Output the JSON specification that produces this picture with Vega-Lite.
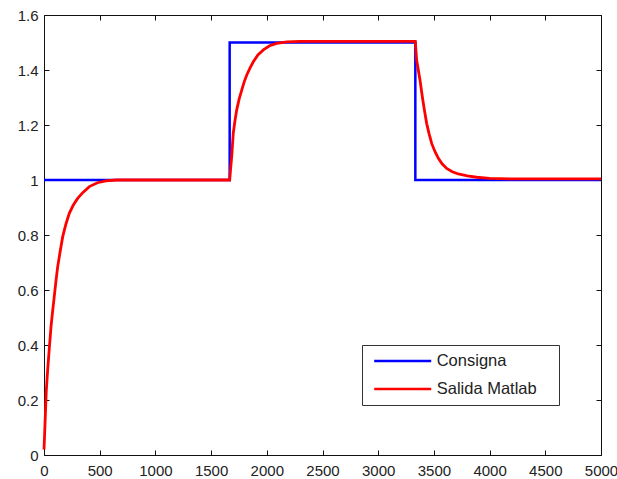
{
  "$schema": "https://vega.github.io/schema/vega-lite/v6.json",
  "width": 557,
  "height": 440,
  "autosize": "none",
  "padding": {"left": 44, "top": 15, "right": 16, "bottom": 24},
  "background": "white",
  "config": {
    "view": {"stroke": "#111", "strokeWidth": 1},
    "axis": {"grid": false, "domain": false, "tickColor": "#111", "tickSize": -5, "labelFont": "Liberation Sans", "labelFontSize": 15, "labelColor": "#222", "title": null, "labelFlush": false, "labelOverlap": false}
  },
  "data": {
    "values": [
      {"serie": "Consigna", "i": 0, "t": 0, "y": 1},
      {"serie": "Consigna", "i": 1, "t": 1666.7, "y": 1},
      {"serie": "Consigna", "i": 2, "t": 1666.7, "y": 1.5},
      {"serie": "Consigna", "i": 3, "t": 3333.3, "y": 1.5},
      {"serie": "Consigna", "i": 4, "t": 3333.3, "y": 1},
      {"serie": "Consigna", "i": 5, "t": 5000, "y": 1},
      {"serie": "Salida Matlab", "i": 0, "t": 0, "y": 0.02},
      {"serie": "Salida Matlab", "i": 1, "t": 5, "y": 0.07},
      {"serie": "Salida Matlab", "i": 2, "t": 12, "y": 0.145},
      {"serie": "Salida Matlab", "i": 3, "t": 20, "y": 0.23},
      {"serie": "Salida Matlab", "i": 4, "t": 33, "y": 0.31},
      {"serie": "Salida Matlab", "i": 5, "t": 48, "y": 0.39},
      {"serie": "Salida Matlab", "i": 6, "t": 63, "y": 0.467},
      {"serie": "Salida Matlab", "i": 7, "t": 78, "y": 0.525},
      {"serie": "Salida Matlab", "i": 8, "t": 92, "y": 0.576},
      {"serie": "Salida Matlab", "i": 9, "t": 108, "y": 0.635},
      {"serie": "Salida Matlab", "i": 10, "t": 123, "y": 0.685},
      {"serie": "Salida Matlab", "i": 11, "t": 145, "y": 0.74},
      {"serie": "Salida Matlab", "i": 12, "t": 168, "y": 0.794},
      {"serie": "Salida Matlab", "i": 13, "t": 197, "y": 0.84},
      {"serie": "Salida Matlab", "i": 14, "t": 227, "y": 0.879},
      {"serie": "Salida Matlab", "i": 15, "t": 262, "y": 0.908},
      {"serie": "Salida Matlab", "i": 16, "t": 302, "y": 0.933},
      {"serie": "Salida Matlab", "i": 17, "t": 350, "y": 0.955},
      {"serie": "Salida Matlab", "i": 18, "t": 407, "y": 0.976},
      {"serie": "Salida Matlab", "i": 19, "t": 480, "y": 0.99},
      {"serie": "Salida Matlab", "i": 20, "t": 556, "y": 0.997},
      {"serie": "Salida Matlab", "i": 21, "t": 650, "y": 1.0},
      {"serie": "Salida Matlab", "i": 22, "t": 1667, "y": 1.0},
      {"serie": "Salida Matlab", "i": 23, "t": 1675, "y": 1.04},
      {"serie": "Salida Matlab", "i": 24, "t": 1685, "y": 1.085},
      {"serie": "Salida Matlab", "i": 25, "t": 1699, "y": 1.17},
      {"serie": "Salida Matlab", "i": 26, "t": 1714, "y": 1.215},
      {"serie": "Salida Matlab", "i": 27, "t": 1730, "y": 1.255},
      {"serie": "Salida Matlab", "i": 28, "t": 1752, "y": 1.295},
      {"serie": "Salida Matlab", "i": 29, "t": 1775, "y": 1.327},
      {"serie": "Salida Matlab", "i": 30, "t": 1797, "y": 1.357},
      {"serie": "Salida Matlab", "i": 31, "t": 1820, "y": 1.382},
      {"serie": "Salida Matlab", "i": 32, "t": 1850, "y": 1.408},
      {"serie": "Salida Matlab", "i": 33, "t": 1879, "y": 1.43},
      {"serie": "Salida Matlab", "i": 34, "t": 1920, "y": 1.455},
      {"serie": "Salida Matlab", "i": 35, "t": 1969, "y": 1.473},
      {"serie": "Salida Matlab", "i": 36, "t": 2025, "y": 1.488},
      {"serie": "Salida Matlab", "i": 37, "t": 2089, "y": 1.497},
      {"serie": "Salida Matlab", "i": 38, "t": 2180, "y": 1.502},
      {"serie": "Salida Matlab", "i": 39, "t": 2300, "y": 1.504},
      {"serie": "Salida Matlab", "i": 40, "t": 3333, "y": 1.504},
      {"serie": "Salida Matlab", "i": 41, "t": 3345, "y": 1.436},
      {"serie": "Salida Matlab", "i": 42, "t": 3360, "y": 1.4},
      {"serie": "Salida Matlab", "i": 43, "t": 3375, "y": 1.364},
      {"serie": "Salida Matlab", "i": 44, "t": 3390, "y": 1.32},
      {"serie": "Salida Matlab", "i": 45, "t": 3405, "y": 1.279},
      {"serie": "Salida Matlab", "i": 46, "t": 3420, "y": 1.242},
      {"serie": "Salida Matlab", "i": 47, "t": 3435, "y": 1.206},
      {"serie": "Salida Matlab", "i": 48, "t": 3457, "y": 1.168},
      {"serie": "Salida Matlab", "i": 49, "t": 3480, "y": 1.133},
      {"serie": "Salida Matlab", "i": 50, "t": 3510, "y": 1.103},
      {"serie": "Salida Matlab", "i": 51, "t": 3540, "y": 1.079},
      {"serie": "Salida Matlab", "i": 52, "t": 3575, "y": 1.058},
      {"serie": "Salida Matlab", "i": 53, "t": 3615, "y": 1.042},
      {"serie": "Salida Matlab", "i": 54, "t": 3665, "y": 1.03},
      {"serie": "Salida Matlab", "i": 55, "t": 3719, "y": 1.022},
      {"serie": "Salida Matlab", "i": 56, "t": 3800, "y": 1.015},
      {"serie": "Salida Matlab", "i": 57, "t": 3884, "y": 1.01},
      {"serie": "Salida Matlab", "i": 58, "t": 4000, "y": 1.006},
      {"serie": "Salida Matlab", "i": 59, "t": 4200, "y": 1.004},
      {"serie": "Salida Matlab", "i": 60, "t": 5000, "y": 1.004}
    ]
  },
  "layer": [
    {
      "transform": [{"filter": "datum.serie === 'Consigna'"}],
      "mark": {"type": "line", "strokeWidth": 2.5, "interpolate": "linear"},
      "encoding": {
        "x": {"field": "t", "type": "quantitative", "scale": {"domain": [0, 5000], "nice": false, "zero": false},
              "axis": {"orient": "bottom", "values": [0, 500, 1000, 1500, 2000, 2500, 3000, 3500, 4000, 4500, 5000], "format": "d", "labelPadding": 13}},
        "y": {"field": "y", "type": "quantitative", "scale": {"domain": [0, 1.6], "nice": false},
              "axis": {"orient": "left", "values": [0, 0.2, 0.4, 0.6, 0.8, 1, 1.2, 1.4, 1.6], "format": "~g", "labelPadding": 11}},
        "order": {"field": "i", "type": "quantitative"},
        "color": {"field": "serie", "type": "nominal",
                  "scale": {"domain": ["Consigna", "Salida Matlab"], "range": ["#0000ff", "#ff0000"]},
                  "legend": {"orient": "none", "legendX": 318, "legendY": 330,
                             "title": "\u2800", "titleOrient": "right", "titlePadding": 4, "titleFontSize": 16, "titleColor": "white",
                             "symbolType": "stroke", "symbolSize": 3249, "symbolStrokeWidth": 2.5,
                             "clipHeight": 20, "rowPadding": 8, "padding": 6, "symbolOffset": 4.7,
                             "labelOffset": 4, "labelFontSize": 16.5, "labelFont": "Liberation Sans", "labelColor": "#222",
                             "strokeColor": "#333", "fillColor": "white"}}
      }
    },
    {
      "transform": [{"filter": "datum.serie === 'Salida Matlab'"}],
      "mark": {"type": "line", "strokeWidth": 2.8, "interpolate": "linear"},
      "encoding": {
        "x": {"field": "t", "type": "quantitative",
              "axis": {"orient": "top", "values": [0, 500, 1000, 1500, 2000, 2500, 3000, 3500, 4000, 4500, 5000], "labels": false}},
        "y": {"field": "y", "type": "quantitative",
              "axis": {"orient": "right", "values": [0, 0.2, 0.4, 0.6, 0.8, 1, 1.2, 1.4, 1.6], "labels": false}},
        "order": {"field": "i", "type": "quantitative"},
        "color": {"field": "serie", "type": "nominal"}
      }
    }
  ],
  "resolve": {"axis": {"x": "independent", "y": "independent"}}
}
